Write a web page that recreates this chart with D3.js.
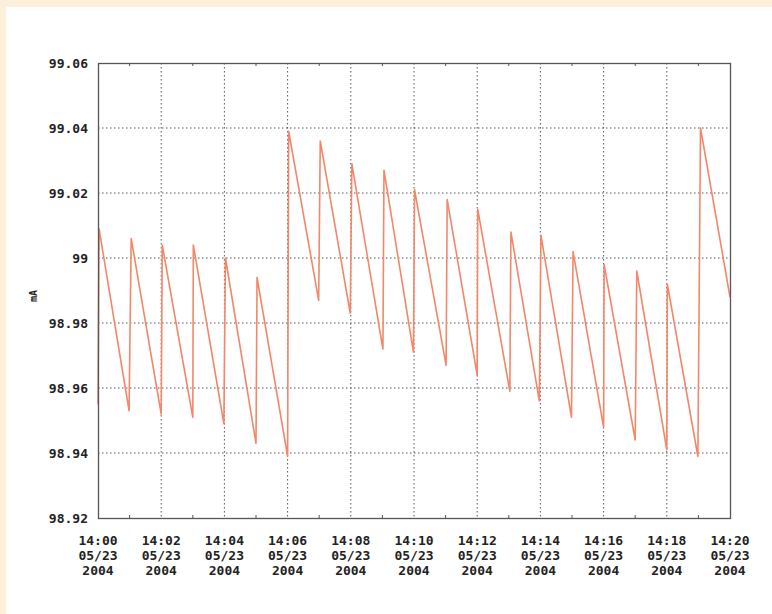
<!DOCTYPE html>
<html>
<head>
<meta charset="utf-8">
<script src="https://cdn.jsdelivr.net/npm/d3@7"></script>
<style>
  html, body { margin: 0; padding: 0; background: #ffffff; overflow: hidden; }
  svg { display: block; }
</style>
</head>
<body>
<svg id="chart"></svg>
<script>
const width = 772;
const height = 614;
const margin = { top: 63, right: 42, bottom: 96, left: 98 };

// seconds after 14:00:00 on 05/23/2004
const seconds = [0, 2, 59, 63, 120, 122, 180, 181, 239, 242, 300, 302, 360, 362,
    419, 422, 479, 482, 541, 543, 599, 601, 661, 663, 720, 721, 782, 784,
    838, 841, 899, 902, 960, 961, 1020, 1023, 1080, 1081, 1139, 1144, 1200];
// beam current, mA
const current = [98.955, 99.009, 98.953, 99.006, 98.952, 99.004, 98.951, 99.004,
    98.949, 99.000, 98.943, 98.994, 98.939, 99.039, 98.987, 99.036, 98.983,
    99.029, 98.972, 99.027, 98.971, 99.021, 98.967, 99.018, 98.964, 99.015,
    98.959, 99.008, 98.956, 99.007, 98.951, 99.002, 98.948, 98.998, 98.944,
    98.996, 98.941, 98.992, 98.939, 99.040, 98.988];

const yTicks = [98.92, 98.94, 98.96, 98.98, 99, 99.02, 99.04, 99.06];
const yLabels = ["98.92", "98.94", "98.96", "98.98", "99", "99.02", "99.04", "99.06"];

const start = new Date(2004, 4, 23, 14, 0, 0);
const end = new Date(2004, 4, 23, 14, 20, 0);
const data = seconds.map((s, i) => ({ t: new Date(+start + s * 1000), v: current[i] }));

const innerWidth = width - margin.left - margin.right;
const innerHeight = height - margin.top - margin.bottom;

const x = d3.scaleTime().domain([start, end]).range([0, innerWidth]);
const y = d3.scaleLinear().domain([98.92, 99.06]).range([innerHeight, 0]);

const font = "'DejaVu Sans Mono', monospace";

const svg = d3.select("#chart")
    .attr("width", width)
    .attr("height", height)
    .attr("viewBox", [0, 0, width, height]);

// cream page border (top and left strips)
svg.append("rect").attr("x", 0).attr("y", 0)
    .attr("width", width).attr("height", 7).attr("fill", "#fdf0da");
svg.append("rect").attr("x", 0).attr("y", 0)
    .attr("width", 6).attr("height", height).attr("fill", "#fdf0da");

const g = svg.append("g")
    .attr("transform", `translate(${margin.left},${margin.top})`);

const majorTimes = d3.timeMinute.every(2).range(start, d3.timeSecond.offset(end, 1));
const minorTimes = d3.timeMinute.range(start, end).filter(d => d.getMinutes() % 2 === 1);

// grid
g.append("g").selectAll("line")
    .data(majorTimes.slice(1, -1))
    .join("line")
    .attr("x1", d => x(d)).attr("x2", d => x(d))
    .attr("y1", 0).attr("y2", innerHeight)
    .attr("stroke", "#555").attr("stroke-dasharray", "1.5,2.5");

g.append("g").selectAll("line")
    .data(yTicks.slice(1, -1))
    .join("line")
    .attr("x1", 0).attr("x2", innerWidth)
    .attr("y1", d => y(d)).attr("y2", d => y(d))
    .attr("stroke", "#555").attr("stroke-dasharray", "1.5,2.5");

// minor ticks top / bottom
g.append("g").selectAll("line")
    .data(minorTimes)
    .join("line")
    .attr("x1", d => x(d)).attr("x2", d => x(d))
    .attr("y1", innerHeight).attr("y2", innerHeight - 3)
    .attr("stroke", "#555");
g.append("g").selectAll("line")
    .data(minorTimes)
    .join("line")
    .attr("x1", d => x(d)).attr("x2", d => x(d))
    .attr("y1", 0).attr("y2", 3)
    .attr("stroke", "#555");

// the line
const line = d3.line()
    .x(d => x(d.t))
    .y(d => y(d.v));

g.append("path")
    .datum(data)
    .attr("fill", "none")
    .attr("stroke", "#f3876a")
    .attr("stroke-width", 1.6)
    .attr("stroke-linejoin", "round")
    .attr("d", line);

// frame
g.append("rect")
    .attr("x", 0.5).attr("y", 0.5)
    .attr("width", innerWidth).attr("height", innerHeight)
    .attr("fill", "none")
    .attr("stroke", "#555")
    .attr("stroke-width", 1.3);

// y axis labels
g.append("g").selectAll("text")
    .data(yTicks)
    .join("text")
    .attr("x", -10)
    .attr("y", d => y(d))
    .attr("dy", "0.35em")
    .attr("text-anchor", "end")
    .attr("font-family", font)
    .attr("font-weight", "bold")
    .attr("font-size", 13)
    .attr("fill", "#222")
    .text((d, i) => yLabels[i]);

// x axis labels, three lines each
const xLines = [d3.timeFormat("%H:%M"), d3.timeFormat("%m/%d"), d3.timeFormat("%Y")];
const xg = g.append("g").attr("transform", `translate(0,${innerHeight})`);
xLines.forEach((fmt, k) => {
    xg.append("g").selectAll("text")
        .data(majorTimes)
        .join("text")
        .attr("x", d => x(d))
        .attr("y", 27 + k * 15)
        .attr("text-anchor", "middle")
        .attr("font-family", font)
        .attr("font-weight", "bold")
        .attr("font-size", 13)
        .attr("fill", "#222")
        .text(d => fmt(d));
});

// unit label
svg.append("text")
    .attr("transform", "translate(37,296) rotate(-90)")
    .attr("text-anchor", "middle")
    .attr("font-family", font)
    .attr("font-weight", "bold")
    .attr("font-size", 10)
    .attr("fill", "#222")
    .text("mA");
</script>
</body>
</html>
